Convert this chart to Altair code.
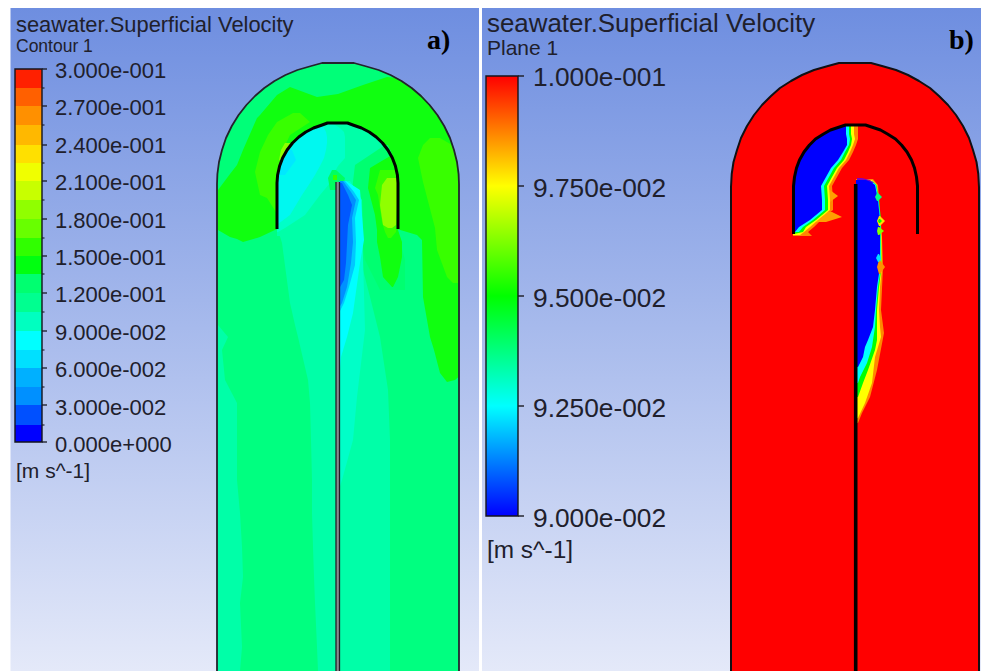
import altair as alt
import pandas as pd

# ---------- picture frame (reference pixel units)
FRAME_X = [8, 981]
FRAME_Y = [671, 8]
PANELS = [(10.5, 479), (482, 981)]

# ---------- legends
A_EDGES = [69, 88, 106, 125, 145, 163, 181, 200, 219, 238, 256, 274, 293, 312, 331, 350, 368, 387, 405, 425, 442]
A_COLOURS = ["#ff2000", "#ff6000", "#ff9000", "#ffb800", "#ffe000", "#f0ff00", "#c8ff00", "#90ff00", "#68ff00",
             "#30ff00", "#00ff10", "#00ff70", "#00ff90", "#00ffc0", "#00ffff", "#00e0ff", "#00b0ff", "#0090ff",
             "#0050ff", "#0000ff"]
A_LABELS = ["3.000e-001", "2.700e-001", "2.400e-001", "2.100e-001", "1.800e-001", "1.500e-001",
            "1.200e-001", "9.000e-002", "6.000e-002", "3.000e-002", "0.000e+000"]
A_LABEL_Y = [71, 108, 146, 183, 221, 258, 295, 333, 370, 408, 445]
B_LABELS = ["1.000e-001", "9.750e-002", "9.500e-002", "9.250e-002", "9.000e-002"]
B_LABEL_Y = [78, 189, 299, 409, 519]
B_TICKS = [76, 186, 296, 406, 516]

# ---------- geometry: half-widths of the arcs
OUT_A_Y = [63, 66, 70, 75, 81, 88, 96, 105, 115, 126, 138, 150, 162, 174, 184]
OUT_A_W = [16, 26.8, 40.6, 52.5, 63.5, 73.7, 83, 91.6, 99.4, 106.2, 112, 116, 119, 120.6, 121]
IN_A_Y = [123, 125, 128, 132, 137, 143, 150, 158, 166, 175, 183]
IN_A_W = [10, 15.4, 24, 31.7, 38.7, 45, 50.4, 54.9, 57.9, 59.9, 60.5]
OUT_B_Y = [63, 66, 70, 75, 81, 88, 96, 105, 115, 126, 138, 150, 162, 174, 187]
OUT_B_W = [16, 27, 41, 53, 64, 75, 84, 93, 101, 108, 114, 118, 121.5, 123.3, 124]
IN_B_Y = [125, 127, 130, 134, 139, 145, 152, 160, 168, 177, 186]
IN_B_W = [10, 16, 25, 32, 40, 46, 51.5, 56, 59, 61, 62]

sx = alt.Scale(domain=FRAME_X, nice=False, zero=False)
sy = alt.Scale(domain=FRAME_Y, nice=False, zero=False)
X = lambda f: alt.X(f, type="quantitative", scale=sx, axis=None)
Y = lambda f: alt.Y(f, type="quantitative", scale=sy, axis=None)


def hband(colour, ys, xl, xr):
    df = pd.DataFrame({"y": ys, "a": xl, "b": xr})
    return alt.Chart(df).mark_area(orient="horizontal", color=colour, interpolate="linear").encode(
        y=Y("y"), x=X("a"), x2="b")


def vband(colour, xs, yt, yb):
    df = pd.DataFrame({"x": xs, "a": yt, "b": yb})
    return alt.Chart(df).mark_area(orient="vertical", color=colour, interpolate="linear").encode(
        x=X("x"), y=Y("a"), y2="b")


def poly(colour, width, xs, ys):
    df = pd.DataFrame({"x": xs, "y": ys, "i": range(len(xs))})
    return alt.Chart(df).mark_line(color=colour, strokeWidth=width, interpolate="linear",
                                   strokeJoin="round").encode(x=X("x"), y=Y("y"), order="i:Q")


def u_line(colour, width, cx, ys, ws, bottom):
    left = [cx - w for w in ws][::-1]
    right = [cx + w for w in ws]
    return poly(colour, width, [left[0]] + left + right + [right[-1]],
                [bottom] + ys[::-1] + ys + [bottom])


def box(x1, x2, y1, y2, **mk):
    df = pd.DataFrame({"x": [x1], "x2": [x2], "y": [y1], "y2": [y2]})
    return alt.Chart(df).mark_rect(**mk).encode(x=X("x"), x2="x2", y=Y("y"), y2="y2")


def tick(x1, x2, ys, colour="#1a1a22", width=1.5):
    df = pd.DataFrame({"x": [x1] * len(ys), "x2": [x2] * len(ys), "y": ys})
    return alt.Chart(df).mark_rule(color=colour, strokeWidth=width).encode(x=X("x"), x2="x2", y=Y("y"))


def label(xs, ys, texts, size, font="Liberation Sans", colour="#20202c", weight="normal"):
    df = pd.DataFrame({"x": xs, "y": ys, "t": texts})
    return alt.Chart(df).mark_text(align="left", baseline="middle", font=font, fontSize=size,
                                   color=colour, fontWeight=weight).encode(x=X("x"), y=Y("y"), text="t")


layers = []

# ---------- backgrounds
grad = alt.Gradient(gradient="linear", x1=0, x2=0, y1=0, y2=1,
                    stops=[alt.GradientStop(offset=0, color="#6e8ee0"),
                           alt.GradientStop(offset=1, color="#e4e9f9")])
for p in PANELS:
    layers.append(box(p[0], p[1], 8, 671, color=grad))

# ---------- panel a field
CA = 338
ya = OUT_A_Y + [671]
wa = OUT_A_W + [121]
layers.append(hband("#00ffa8", ya, [CA - w for w in wa], [CA + w for w in wa]))
yt = OUT_A_Y + [235]
wt = OUT_A_W + [121]
layers.append(hband("#00ff78", yt, [CA - w for w in wt], [CA + w for w in wt]))

layers.append(hband("#00ff80",
    [230, 243, 303, 325, 337, 350, 380, 403, 440, 480, 513, 547, 577, 603, 647, 671],
    [218, 218, 218, 218, 228, 222, 225, 237, 237, 237, 240, 242, 243, 240, 242, 240],
    [278, 282, 290, 295, 298, 301, 308, 310, 311, 312, 312, 313, 314, 315, 317, 318]))
layers.append(hband("#00ff80",
    [228, 270, 297, 337, 390, 440, 671],
    [358, 363, 370, 380, 388, 390, 390],
    [458, 458, 458, 458, 458, 458, 458]))

layers.append(vband("#10ff10",
    [218, 230, 237, 243, 257, 260, 277, 290, 317, 338, 363, 387, 397, 417, 422, 423, 430, 434, 440, 447, 455, 458.5],
    [190, 174, 165, 150, 118, 115, 95, 87, 97, 94, 85, 77, 78, 92, 96, 97, 105, 110, 119, 132, 152, 176],
    [230, 237, 239, 242, 238, 237, 229, 228, 228, 228, 228, 228, 229, 235, 240, 297, 337, 350, 373, 382, 380, 377]))
layers.append(hband("#38ff00",
    [138, 145, 158, 182, 228, 250, 277, 283],
    [430, 423, 418, 423, 435, 437, 447, 453],
    [440, 452, 456, 458.5, 458.5, 458.5, 458.5, 458.5]))
layers.append(hband("#38ff00",
    [113, 122, 135, 152, 172, 195, 198, 212],
    [293, 277, 268, 260, 255, 260, 267, 276],
    [300, 310, 290, 282, 278, 278, 278, 278]))
layers.append(hband("#90ff00", [143, 150, 160], [285, 281, 279], [292, 288, 284]))

# inside of the baffle
CI = 337.5
yi = IN_A_Y + [236]
wi = IN_A_W + [60.5]
layers.append(hband("#00ffa8", yi, [CI - w for w in wi], [CI + w for w in wi]))
layers.append(hband("#00ff70",
    [145, 165, 190, 230, 260, 290],
    [385, 355, 352, 360, 365, 380],
    [388, 397, 397, 397, 405, 405]))
layers.append(hband("#10ff10",
    [155, 162, 168, 188, 215, 230, 242, 257, 277, 287],
    [392, 380, 370, 368, 375, 377, 377, 380, 383, 392],
    [395, 397, 397, 397, 397, 398, 402, 402, 398, 393]))
layers.append(hband("#38ff00",
    [170, 188, 195, 222, 232, 238],
    [380, 375, 378, 382, 385, 388],
    [397, 397, 397, 397, 396, 391]))
layers.append(hband("#90ff00",
    [178, 185, 205, 225, 228],
    [387, 382, 380, 383, 388],
    [397, 397, 397, 396, 392]))
layers.append(hband("#00ffc8",
    [123, 125, 128, 132, 137, 143, 150, 158, 166, 175, 183, 195, 215, 228, 232],
    [327.5, 322, 313.5, 305.8, 298.8, 292.5, 287, 282.6, 279.6, 277.6, 277, 277, 277, 277, 277],
    [330, 335, 340, 344, 345, 345, 345, 345, 338, 333, 330, 320, 305, 285, 278]))
layers.append(hband("#00f8f0",
    [125, 128, 132, 137, 143, 150, 158, 166, 175, 183, 195, 215, 224],
    [322, 313.5, 305.8, 298.8, 292.5, 287, 282.6, 279.6, 277.6, 277, 277, 277, 277],
    [322, 324, 326, 327, 327, 326, 324, 320, 315, 310, 302, 290, 278]))
layers.append(hband("#00e8ff", [150, 160, 175], [288, 282, 278], [292, 296, 285]))
layers.append(hband("#00ff60", [170, 178, 190], [332, 328, 330], [336, 345, 342]))
layers.append(hband("#38ff00", [175, 180], [333, 333], [337, 337]))

# wake behind the pipe tip
layers.append(hband("#00ffc8",
    [181, 200, 257, 330, 397, 440, 480, 488],
    [339.5] * 8,
    [350, 362, 363, 365, 357, 353, 342, 339.5]))
layers.append(hband("#00ffff",
    [181, 190, 240, 263, 313, 337, 357, 375],
    [339.5] * 8,
    [346, 360, 364, 360, 353, 347, 341, 339.5]))
layers.append(hband("#00c8ff",
    [181, 192, 200, 218, 242, 265, 287, 303, 312],
    [339.5] * 9,
    [345, 354, 359, 355, 356, 355, 349, 344, 339.5]))
layers.append(hband("#0090ff",
    [181, 192, 200, 218, 242, 263, 287, 303, 307],
    [339.5] * 9,
    [343, 351, 356, 352, 353, 351, 347, 342, 339.5]))
layers.append(hband("#0058ff",
    [183, 195, 205, 225, 263, 280, 288],
    [339.5] * 7,
    [342, 348, 352, 348, 346, 344, 339.5]))

# panel a walls
layers.append(box(336, 339.5, 182, 671, color="#8a8a90"))
layers.append(poly("#202028", 1.3, [336, 336], [182, 671]))
layers.append(poly("#202028", 1.3, [339.5, 339.5], [182, 671]))
layers.append(u_line("#24242c", 1.8, CA, OUT_A_Y, OUT_A_W, 671))
layers.append(u_line("#000000", 3, CI, IN_A_Y, IN_A_W, 229))

# ---------- panel b field
CB = 855
CBI = 855.5
yb = OUT_B_Y + [671]
wb = OUT_B_W + [124]
layers.append(hband("#ff0000", yb, [CB - w for w in wb], [CB + w for w in wb]))

BL_Y = [125, 127, 130, 134, 139, 145, 152, 160, 168, 177, 186, 200, 210, 220, 227, 232]
BL_L = [845, 839, 830, 823, 815, 809, 803.5, 799, 796, 794, 793, 793, 793, 793, 793, 793]
layers.append(hband("#ff8800", BL_Y + [236], BL_L + [793],
                    [858, 858, 858, 858, 858, 856, 853, 849, 842, 837, 832, 833, 833, 821, 814, 808, 812]))
layers.append(hband("#ffa000", [190, 196, 202], [828, 826, 828], [830, 838, 830]))
layers.append(hband("#ffa000", [212, 217, 222], [826, 822, 815], [832, 842, 826]))
layers.append(hband("#ffff00", BL_Y + [235], BL_L + [793],
                    [854, 854, 854, 854, 855, 853, 850, 846, 839, 834, 829, 830, 830, 818, 810, 804, 800]))
layers.append(hband("#00ff00", BL_Y + [234], BL_L + [793],
                    [851, 851, 851, 851, 852, 851, 848, 844, 837, 832, 827, 828, 828, 816, 806, 803, 794]))
layers.append(hband("#00ffff", BL_Y, BL_L,
                    [849, 849, 849, 849, 850, 849, 845, 841, 834, 829, 824, 825, 825, 813, 803, 799]))
layers.append(hband("#0000ff", BL_Y, BL_L,
                    [846, 846, 846, 846, 847, 847, 843, 838, 831, 826, 821, 822, 822, 810, 799, 795]))

layers.append(hband("#ff8800",
    [179, 185, 237, 267, 310, 333, 370, 397, 413, 423], [856] * 10,
    [873, 878, 882, 883, 881, 884, 877, 870, 862, 858]))
layers.append(hband("#ffff00",
    [180, 185, 237, 267, 287, 310, 327, 337, 357, 383, 403, 418], [856] * 12,
    [872, 877, 881.5, 882, 880, 879, 880, 881, 875, 872, 865, 858]))
layers.append(hband("#00ff00",
    [181, 185, 200, 220, 237, 267, 287, 310, 327, 340, 350, 370, 383, 397], [856] * 14,
    [872, 876.5, 879, 881, 881, 881.5, 879, 877, 877, 877, 875, 868, 863, 858]))
layers.append(hband("#00ffff",
    [181, 185, 200, 220, 237, 267, 287, 310, 327, 340, 347, 363, 377, 383], [856] * 14,
    [872, 876, 878.5, 880.5, 880.5, 881, 878, 876, 875, 873, 872, 867, 860, 858]))
layers.append(hband("#8000c0", [178, 180, 183], [857, 857, 857], [862, 870, 874]))
layers.append(hband("#0000ff",
    [180, 182, 185, 200, 220, 237, 267, 287, 310, 327, 340, 347, 357, 367], [856] * 14,
    [866, 871, 875, 878, 880, 880, 880, 877, 875, 873, 868, 865, 863, 858]))
layers.append(hband("#00ff80", [193, 197, 201], [877, 875, 877], [878, 882, 878]))
layers.append(hband("#ffdd00", [216, 221, 226], [879, 877, 879], [880, 885, 880]))
layers.append(hband("#00ff00", [219, 221, 223], [879, 878, 879], [880, 882, 880]))
layers.append(hband("#80ff00", [227, 231, 235], [878, 877, 878], [879, 884, 879]))
layers.append(hband("#ff9000", [260, 267, 274], [879, 877, 879], [880, 885, 880]))
layers.append(hband("#00e0ff", [254, 258, 262], [878, 876, 878], [879, 881, 879]))

# panel b walls
layers.append(poly("#000000", 3.6, [855.7, 855.7], [184, 671]))
layers.append(u_line("#101014", 2, CB, OUT_B_Y, OUT_B_W, 671))
layers.append(u_line("#000000", 3, CBI, IN_B_Y, IN_B_W, 234))

# ---------- legend a
for i, c in enumerate(A_COLOURS):
    layers.append(box(15, 42, A_EDGES[i], A_EDGES[i + 1], color=c))
layers.append(box(15, 42, 69, 442, fillOpacity=0, stroke="#14141c", strokeWidth=1.4))
layers.append(tick(42, 44.5, A_EDGES[1::2], width=1.1))
layers.append(tick(42, 47, A_EDGES[::2], width=1.3))
layers.append(label([55] * 11, A_LABEL_Y, A_LABELS, 22))

# ---------- legend b
bar = alt.Gradient(gradient="linear", x1=0, x2=0, y1=0, y2=1,
                   stops=[alt.GradientStop(offset=0, color="#ff0000"),
                          alt.GradientStop(offset=0.25, color="#ffff00"),
                          alt.GradientStop(offset=0.5, color="#00ff00"),
                          alt.GradientStop(offset=0.75, color="#00ffff"),
                          alt.GradientStop(offset=1, color="#0000ff")])
layers.append(box(486, 518, 76, 516, color=bar))
layers.append(box(486, 518, 76, 516, fillOpacity=0, stroke="#14141c", strokeWidth=1.4))
layers.append(tick(518, 524, B_TICKS, width=1.4))
layers.append(label([533] * 5, B_LABEL_Y, B_LABELS, 26.3))

# ---------- titles
layers.append(label([16], [25], ["seawater.Superficial Velocity"], 21.9))
layers.append(label([16], [47], ["Contour 1"], 17.5))
layers.append(label([16], [472], ["[m s^-1]"], 21))
layers.append(label([487], [24], ["seawater.Superficial Velocity"], 25.9))
layers.append(label([487], [49], ["Plane 1"], 21))
layers.append(label([487], [551], ["[m s^-1]"], 24.4))
layers.append(label([427], [41], ["a)"], 28, font="Liberation Serif", colour="#000000", weight="bold"))
layers.append(label([949], [41], ["b)"], 28, font="Liberation Serif", colour="#000000", weight="bold"))

chart = alt.layer(*layers).properties(
    width=973, height=663, padding=0, background="#ffffff"
).configure_view(stroke=None)

chart.save("out.html", embed_options={"renderer": "svg", "actions": False})
